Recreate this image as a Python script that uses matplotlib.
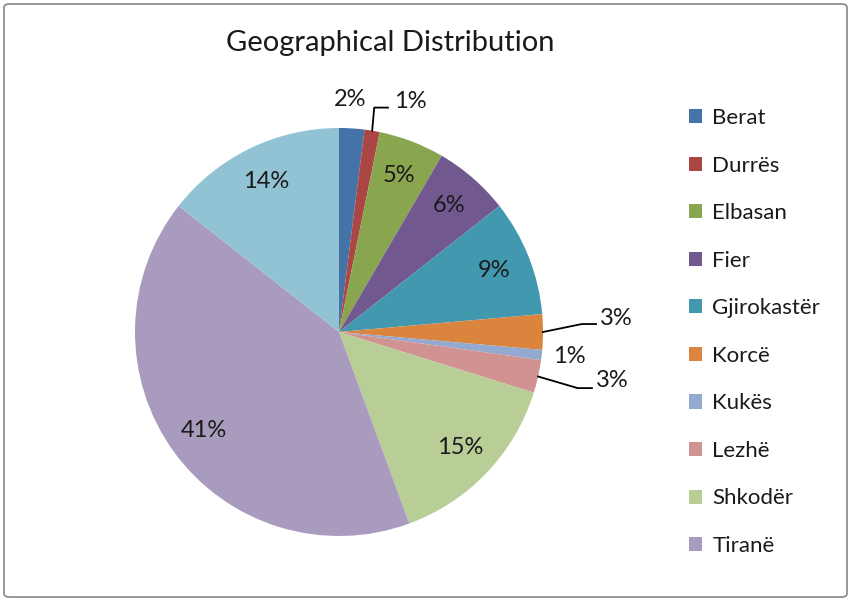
import matplotlib
matplotlib.use("Agg")
import matplotlib.pyplot as plt
import numpy as np
from matplotlib.patches import FancyBboxPatch

plt.rcParams['font.family'] = ['Lato', 'DejaVu Sans']

# data (percent of total, clockwise from 12 o'clock)
districts = ['Berat', 'Durrës', 'Elbasan', 'Fier', 'Gjirokastër', 'Korcë',
             'Kukës', 'Lezhë', 'Shkodër', 'Tiranë', 'Vlorë']
shares = [2.0, 1.2, 5.2, 6.0, 9.2, 2.8, 0.8, 2.6, 14.6, 41.2, 14.4]
colors = ['#4572A7', '#AA4643', '#89A54E', '#71588F', '#4198AF', '#DB843D',
          '#93A9CF', '#D19392', '#B9CD96', '#A99BBD', '#92C3D4']
n_legend = 10  # the last entry is cut off in the original legend

W, H = 851, 601
fig = plt.figure(figsize=(W / 100, H / 100), dpi=100)

# outer frame
frame = FancyBboxPatch((4 / W, 4 / H), (W - 8) / W, (H - 8) / H,
                       boxstyle="round,pad=0,rounding_size=0.006",
                       transform=fig.transFigure, fill=False,
                       edgecolor='#868686', linewidth=1.2)
fig.patches.append(frame)

# pie axes: centre (339, 332) px, radius 204 px
cx, cy, R = 339, 332, 204
ax = fig.add_axes([(cx - R) / W, (H - cy - R) / H, 2 * R / W, 2 * R / H])

wedges, _ = ax.pie(shares, colors=colors, startangle=90, counterclock=False,
                   radius=1.0, wedgeprops=dict(linewidth=0))
ax.set_xlim(-1, 1)
ax.set_ylim(-1, 1)
ax.set_aspect('equal')
ax.axis('off')

lab_fs = 17

def mid_dir(w):
    a = np.deg2rad((w.theta1 + w.theta2) / 2)
    return np.cos(a), np.sin(a)

# label placement for the small slices (x, y of label in axis units, leader?)
outside = {0: (0.055, 1.14, False), 1: (0.27, 1.13, True),
           5: (1.28, 0.064, True), 6: (1.13, -0.12, False),
           7: (1.26, -0.24, True)}

for i, w in enumerate(wedges):
    txt = f"{shares[i]:.0f}%"
    dx, dy = mid_dir(w)
    if i not in outside:
        ax.text(0.82 * dx, 0.82 * dy, txt, ha='center', va='center',
                fontsize=lab_fs, color='#1a1a1a')
        continue
    lx, ly, leader = outside[i]
    if not leader:
        ax.text(lx, ly, txt, ha='center', va='center', fontsize=lab_fs,
                color='#1a1a1a', clip_on=False)
        continue
    ax.text(lx, ly, txt, ha='left', va='center', fontsize=lab_fs,
            color='#1a1a1a', clip_on=False)
    if dy > 0.5:
        ax.plot([dx, dx + 0.01, lx - 0.03], [dy, ly - 0.03, ly - 0.03],
                color='black', linewidth=1.3, clip_on=False)
    else:
        line_y = ly - 0.025 if abs(dy) < 0.2 else ly - 0.035
        ax.plot([dx, lx - 0.09, lx - 0.02], [dy, line_y, line_y],
                color='black', linewidth=1.3, clip_on=False)

fig.text(390 / W, 1 - 43 / H, 'Geographical Distribution', ha='center',
         va='center', fontsize=21, color='#1a1a1a')

leg = fig.legend(handles=wedges[:n_legend], labels=districts[:n_legend],
                 loc='upper left', bbox_to_anchor=(689 / W, 1 - 108 / H),
                 frameon=False, fontsize=16, labelspacing=1.24,
                 handlelength=0.6, handleheight=0.6, handletextpad=0.45,
                 borderpad=0, borderaxespad=0)
for t in leg.get_texts():
    t.set_color('#1a1a1a')

fig.savefig('out.png', dpi=100)
